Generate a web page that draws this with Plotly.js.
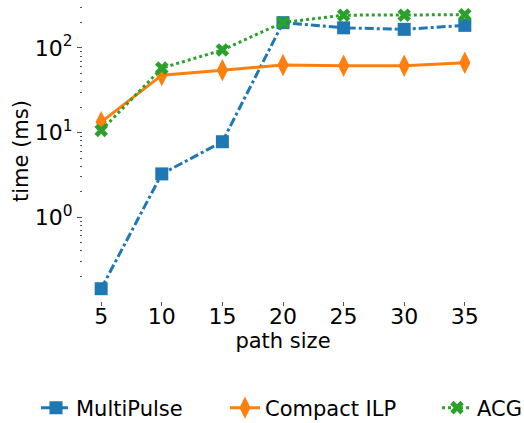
<!DOCTYPE html>
<html><head><meta charset="utf-8">
<script src="https://cdn.plot.ly/plotly-3.0.1.min.js"></script>
<style>html,body{margin:0;padding:0;background:#fff}</style>
</head><body><div id="chart" style="width:524px;height:423px"></div>
<script>
const pathSize = [5, 10, 15, 20, 25, 30, 35];
const multiPulse = [0.143, 3.25, 7.8, 199, 173, 166, 185];
const compactILP = [13.3, 47.7, 54.7, 62.8, 61.7, 61.7, 66.8];
const acg = [10.6, 57.8, 94.7, 200, 244, 244, 247];
const names = ['MultiPulse', 'Compact ILP', 'ACG'];
const yTickVals = [1, 10, 100];
const yTickText = ['10<sup>0</sup>', '10<sup>1</sup>', '10<sup>2</sup>'];

const FAM = 'DejaVu Sans, sans-serif';
const traces = [
  {x: pathSize, y: multiPulse, name: names[0], mode: 'lines+markers', legend: 'legend',
   line: {color: '#1f77b4', width: 3, dash: 'dashdot'},
   marker: {symbol: 'square', size: 13, color: '#1f77b4'}},
  {x: pathSize, y: compactILP, name: names[1], mode: 'lines+markers', legend: 'legend2',
   line: {color: '#ff7f0e', width: 3, dash: 'solid'},
   marker: {symbol: 'diamond-tall', size: 16, color: '#ff7f0e'}},
  {x: pathSize, y: acg, name: names[2], mode: 'lines+markers', legend: 'legend3',
   line: {color: '#2ca02c', width: 3, dash: 'dot'},
   marker: {symbol: 'x', size: 12, color: '#2ca02c'}}
];
function leg(px) {
  return {xref: 'container', yref: 'container', x: px / 524, xanchor: 'left',
          y: 1 - 408 / 423, yanchor: 'middle', orientation: 'h',
          font: {family: FAM, size: 21, color: '#000'}, bgcolor: 'rgba(0,0,0,0)',
          itemwidth: 30};
}
const layout = {
  width: 524, height: 423,
  margin: {l: 83, r: 41, t: 1, b: 122},
  paper_bgcolor: '#fff', plot_bgcolor: '#fff',
  font: {family: FAM, size: 22, color: '#000'},
  showlegend: true,
  legend: leg(36), legend2: leg(225), legend3: leg(437),
  xaxis: {range: [3.5, 36.5], tickvals: pathSize, ticktext: pathSize.map(String),
          showgrid: false, zeroline: false, showline: false,
          ticks: 'outside', ticklen: 4, tickcolor: '#555', tickwidth: 1,
          ticklabelstandoff: -8,
          title: {text: 'path size', font: {size: 21}, standoff: 2},
          tickfont: {size: 22}},
  yaxis: {type: 'log', range: [-0.99, 2.555], tickvals: yTickVals, ticktext: yTickText,
          showgrid: false, zeroline: false, showline: false,
          ticks: 'outside', ticklen: 5, tickcolor: '#555', tickwidth: 1,
          minor: {dtick: 'D1', ticks: 'outside', ticklen: 2.5, tickcolor: '#555', showgrid: false},
          title: {text: 'time (ms)', font: {size: 21}, standoff: 0},
          tickfont: {size: 22}}
};
Plotly.newPlot('chart', traces, layout, {displayModeBar: false, staticPlot: true});
</script></body></html>
